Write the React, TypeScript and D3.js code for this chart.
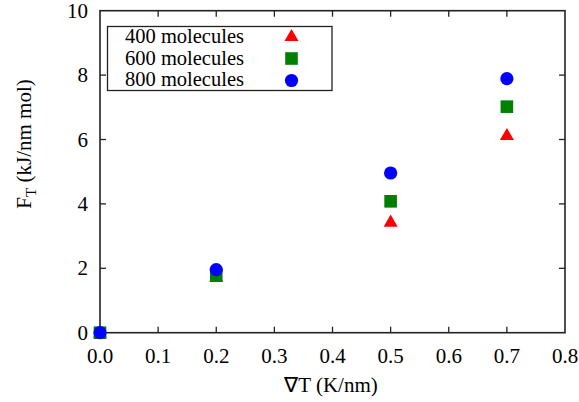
import React from "react";
import * as d3 from "d3";

const gradT = [0.0, 0.2, 0.5, 0.7];
const f400 = [0.0, 1.73, 3.45, 6.14];
const f600 = [0.0, 1.8, 4.08, 7.02];
const f800 = [0.0, 1.96, 4.96, 7.89];
const seriesNames = ["400 molecules", "600 molecules", "800 molecules"];
const xTicks = [0, 0.1, 0.2, 0.3, 0.4, 0.5, 0.6, 0.7, 0.8];
const yTicks = [0, 2, 4, 6, 8, 10];

const W = 579;
const H = 402;
const FONT = '"Liberation Serif", "Times New Roman", serif';
const BASE = 18; // render text at 18px and scale up, keeps the serif face
const axisColor = "#222";

const margin = { top: 10.7, right: 14, bottom: 69.3, left: 100 };
const x = d3.scaleLinear().domain([0, 0.8]).range([margin.left, W - margin.right]);
const y = d3.scaleLinear().domain([0, 10]).range([H - margin.bottom, margin.top]);
const triPath = d3.symbol().type(d3.symbolTriangle).size(85)() as string;

const Label = ({
  x: tx,
  y: ty,
  size = 21,
  anchor = "start",
  rotate = 0,
  children,
}: {
  x: number;
  y: number;
  size?: number;
  anchor?: string;
  rotate?: number;
  children: React.ReactNode;
}) => (
  <g transform={`translate(${tx},${ty}) rotate(${rotate}) scale(${size / BASE})`}>
    <text x={0} y={0} textAnchor={anchor} fontSize={BASE} style={{ fontFamily: FONT }}>
      {children}
    </text>
  </g>
);

const Tri = ({ cx, cy }: { cx: number; cy: number }) => (
  <path d={triPath} transform={`translate(${cx},${cy + 1})`} fill="#ff0000" />
);
const Sq = ({ cx, cy }: { cx: number; cy: number }) => (
  <rect x={cx - 6.3} y={cy - 6.3} width={12.6} height={12.6} fill="#008000" />
);
const Circ = ({ cx, cy }: { cx: number; cy: number }) => <circle cx={cx} cy={cy} r={6.6} fill="#0000ff" />;

const App = () => {
  const tl = 6;
  const markers = [Tri, Sq, Circ];
  const series = [f400, f600, f800];

  return (
    <svg width={W} height={H} style={{ display: "block", position: "absolute", left: 0, top: 0 }}>
      {/* frame */}
      <rect
        x={x(0)}
        y={y(10)}
        width={x(0.8) - x(0)}
        height={y(0) - y(10)}
        fill="none"
        stroke={axisColor}
        strokeWidth={1.6}
      />
      {/* inward ticks on all sides */}
      <g stroke={axisColor} strokeWidth={1.3}>
        {xTicks.slice(1, -1).map((t) => (
          <g key={"x" + t}>
            <line x1={x(t)} x2={x(t)} y1={y(0)} y2={y(0) - tl} />
            <line x1={x(t)} x2={x(t)} y1={y(10)} y2={y(10) + tl} />
          </g>
        ))}
        {yTicks.slice(1, -1).map((t) => (
          <g key={"y" + t}>
            <line x1={x(0)} x2={x(0) + tl} y1={y(t)} y2={y(t)} />
            <line x1={x(0.8)} x2={x(0.8) - tl} y1={y(t)} y2={y(t)} />
          </g>
        ))}
      </g>
      {/* tick labels */}
      {xTicks.map((t) => (
        <Label key={"xl" + t} x={x(t)} y={y(0) + 30} anchor="middle">
          {d3.format(".1f")(t)}
        </Label>
      ))}
      {yTicks.map((t) => (
        <Label key={"yl" + t} x={x(0) - 12} y={y(t) + 7} anchor="end">
          {t}
        </Label>
      ))}
      {/* axis titles */}
      <Label x={331} y={392} anchor="middle">
        ∇T (K/nm)
      </Label>
      <Label x={31} y={144} anchor="middle" rotate={-90}>
        <tspan>F</tspan>
        <tspan dy={4.5} fontSize={13}>
          T
        </tspan>
        <tspan dy={-4.5}> (kJ/nm mol)</tspan>
      </Label>
      {/* points: 400 first, then 600, then 800 on top */}
      {series.map((vals, s) => {
        const M = markers[s];
        return (
          <g key={"s" + s}>
            {gradT.map((t, i) => (
              <M key={i} cx={x(t)} cy={y(vals[i])} />
            ))}
          </g>
        );
      })}
      {/* legend */}
      <g>
        <rect x={107.5} y={26.5} width={224.5} height={64} fill="white" stroke={axisColor} strokeWidth={1.3} />
        {seriesNames.map((name, i) => {
          const cy = 37 + i * 21.5;
          const M = markers[i];
          return (
            <g key={name}>
              <Label x={125} y={cy + 6} size={20.5}>
                {name}
              </Label>
              <M cx={291.5} cy={cy - (i === 0 ? 1 : 0) + (i === 2 ? 0.5 : 0)} />
            </g>
          );
        })}
      </g>
    </svg>
  );
};

export default App;
